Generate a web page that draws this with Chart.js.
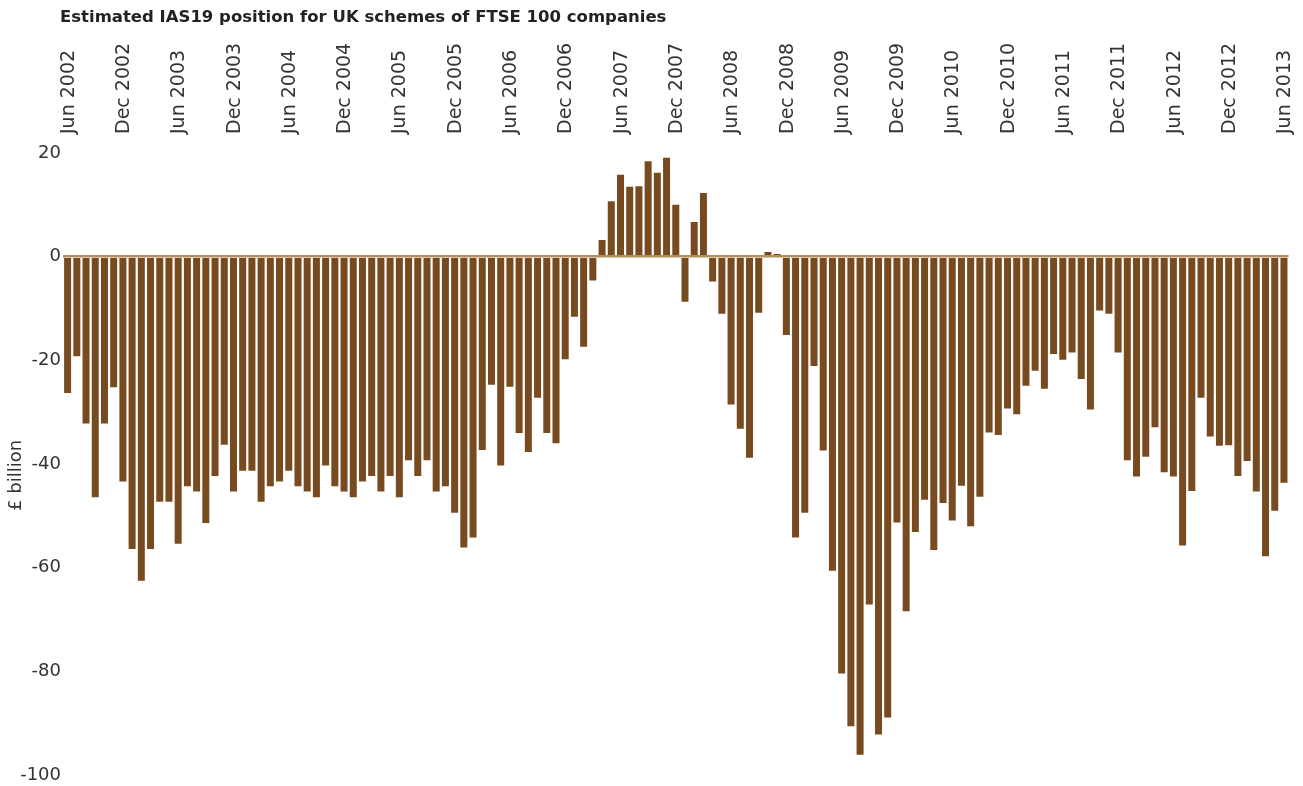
<!DOCTYPE html>
<html>
<head>
<meta charset="utf-8">
<script src="https://cdn.jsdelivr.net/npm/chart.js@4.4.0/dist/chart.umd.min.js"></script>
<style>
html,body{margin:0;padding:0;background:#fff}
#wrap{position:relative;width:1303px;height:786px}
</style>
</head>
<body>
<div id="wrap"><canvas id="c" width="1303" height="786"></canvas></div>
<script>
// Estimated IAS19 position (£ billion), monthly, Jun 2002 – Jun 2013
const v2002 = [-26.3, -19.2, -32.2, -46.4, -32.2, -25.2, -43.4]; // Jun–Dec
const v2003 = [-56.4, -62.5, -56.4, -47.3, -47.3, -55.4, -44.3, -45.3, -51.4, -42.3, -36.3, -45.3];
const v2004 = [-41.3, -41.3, -47.3, -44.3, -43.4, -41.3, -44.3, -45.3, -46.4, -40.3, -44.3, -45.3];
const v2005 = [-46.4, -43.4, -42.3, -45.3, -42.3, -46.4, -39.3, -42.3, -39.3, -45.3, -44.3, -49.4];
const v2006 = [-56.1, -54.2, -37.3, -24.7, -40.3, -25.1, -34.0, -37.7, -27.2, -34.0, -36.0, -19.8];
const v2007 = [-11.6, -17.4, -4.6, 3.2, 10.7, 15.8, 13.5, 13.6, 18.4, 16.2, 19.1, 10.0];
const v2008 = [-8.7, 6.7, 12.3, -4.8, -11.0, -28.5, -33.2, -38.8, -10.8, 0.9, 0.5, -15.1];
const v2009 = [-54.2, -49.4, -21.1, -37.4, -60.6, -80.4, -90.6, -96.1, -67.1, -92.2, -88.9, -51.3];
const v2010 = [-68.4, -53.1, -46.9, -56.6, -47.5, -50.9, -44.2, -52.0, -46.3, -33.9, -34.4, -29.3];
const v2011 = [-30.4, -24.9, -22.0, -25.5, -18.8, -19.9, -18.5, -23.6, -29.5, -10.4, -11.0, -18.5];
const v2012 = [-39.3, -42.4, -38.6, -32.9, -41.6, -42.4, -55.7, -45.2, -27.2, -34.7, -36.5, -36.4];
const v2013 = [-42.3, -39.4, -45.3, -57.8, -49.0, -43.6]; // Jan–Jun

const monthNames = ["Jan","Feb","Mar","Apr","May","Jun","Jul","Aug","Sep","Oct","Nov","Dec"];
const yearBlocks = [
  [2002, 5, v2002], [2003, 0, v2003], [2004, 0, v2004], [2005, 0, v2005],
  [2006, 0, v2006], [2007, 0, v2007], [2008, 0, v2008], [2009, 0, v2009],
  [2010, 0, v2010], [2011, 0, v2011], [2012, 0, v2012], [2013, 0, v2013]
];

const tickLabels = [
  "Jun 2002","Dec 2002","Jun 2003","Dec 2003","Jun 2004","Dec 2004",
  "Jun 2005","Dec 2005","Jun 2006","Dec 2006","Jun 2007","Dec 2007",
  "Jun 2008","Dec 2008","Jun 2009","Dec 2009","Jun 2010","Dec 2010",
  "Jun 2011","Dec 2011","Jun 2012","Dec 2012","Jun 2013"
];
const yTicks = [20, 0, -20, -40, -60, -80, -100];

const categories = [];
const values = [];
yearBlocks.forEach(([yr, startMonth, arr]) => {
  arr.forEach((v, i) => {
    categories.push(monthNames[startMonth + i] + " " + yr);
    values.push(v);
  });
});

const FONT = '"DejaVu Sans", sans-serif';
const titleText = "Estimated IAS19 position for UK schemes of FTSE 100 companies";

const titlePlugin = {
  id: 'topTitle',
  afterDraw(chart) {
    const ctx = chart.ctx;
    ctx.save();
    ctx.font = 'bold 16.5px ' + FONT;
    ctx.fillStyle = '#222222';
    ctx.textBaseline = 'middle';
    ctx.textAlign = 'left';
    ctx.fillText(titleText, 60, 18);
    ctx.restore();
  }
};

new Chart(document.getElementById('c'), {
  type: 'bar',
  data: {
    labels: categories,
    datasets: [{
      data: values,
      backgroundColor: '#774a1f',
      borderWidth: 0,
      barPercentage: 0.76,
      categoryPercentage: 1.0
    }]
  },
  plugins: [titlePlugin],
  options: {
    responsive: false,
    animation: false,
    devicePixelRatio: 1,
    layout: { padding: { top: 38, right: 10, bottom: 7, left: 0 } },
    plugins: { legend: { display: false }, tooltip: { enabled: false }, title: { display: false } },
    scales: {
      x: {
        position: 'top',
        grid: { display: false, drawTicks: false },
        border: { display: false },
        ticks: {
          autoSkip: false,
          minRotation: 90,
          maxRotation: 90,
          padding: 19,
          labelOffset: 24,
          color: '#333333',
          font: { family: FONT, size: 19 },
          callback: function(val, i) {
            const l = categories[i];
            return tickLabels.includes(l) ? l : '';
          }
        },
        afterFit(s) { s.height = 115; }
      },
      y: {
        min: -100,
        max: 20,
        afterBuildTicks(s) { s.ticks = yTicks.map(v => ({ value: v })); },
        grid: {
          drawTicks: false,
          z: 1,
          lineWidth: 2.5,
          color: ctx => (ctx.tick && ctx.tick.value === 0) ? '#b38f5c' : 'rgba(0,0,0,0)'
        },
        border: { display: false },
        ticks: {
          padding: 2,
          color: '#333333',
          font: { family: FONT, size: 18, lineHeight: 1.0 }
        },
        title: {
          display: true,
          text: '£ billion\u00a0\u00a0\u00a0\u00a0',
          color: '#333333',
          font: { family: FONT, size: 18 },
          padding: { top: 6, bottom: 0 }
        },
        afterFit(s) { s.width = 63; }
      }
    }
  }
});
</script>
</body>
</html>
